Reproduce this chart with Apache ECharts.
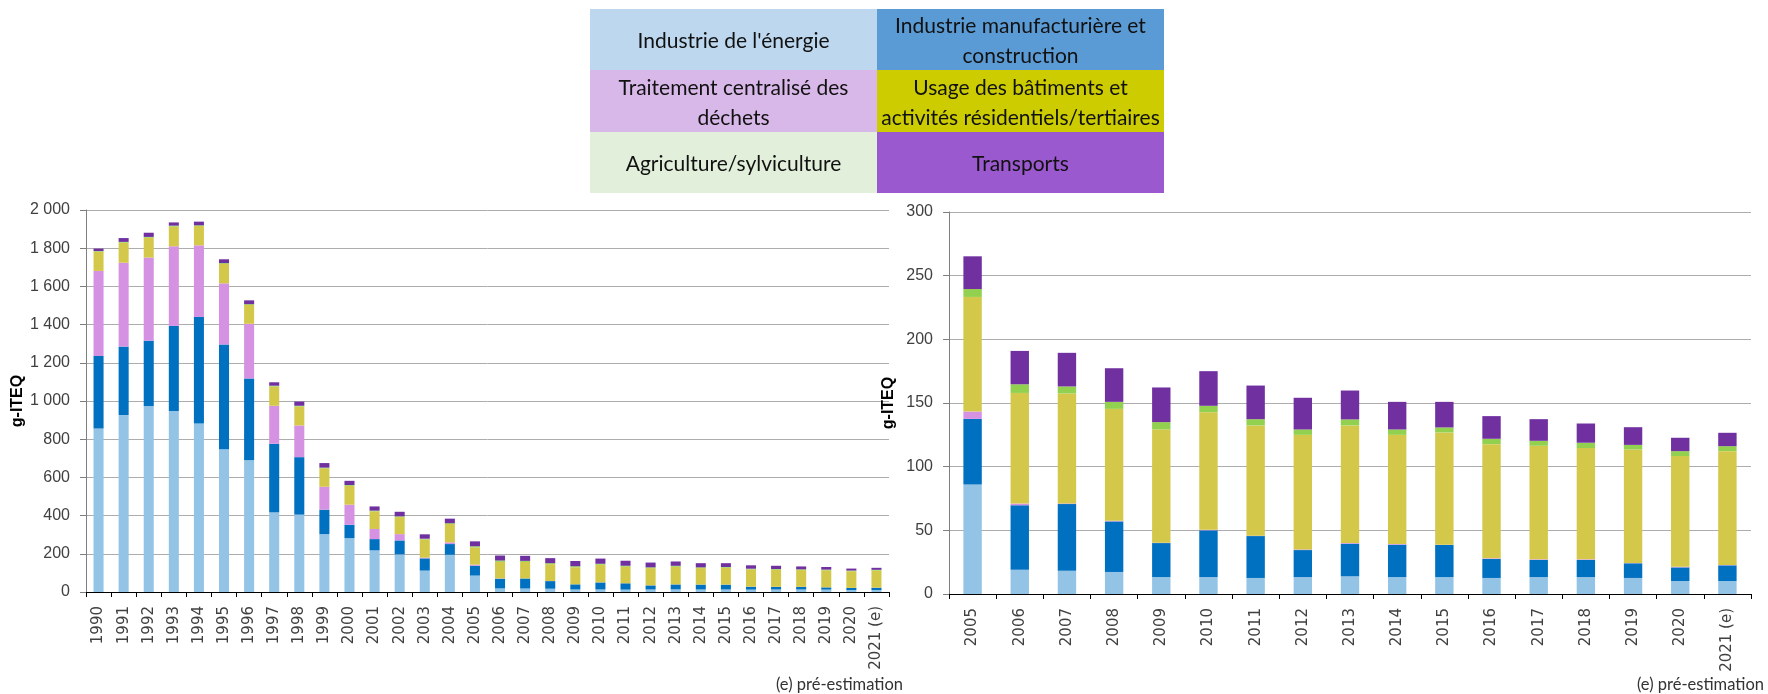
<!DOCTYPE html>
<html>
<head>
    <meta charset="utf-8">
    <script src="https://cdn.jsdelivr.net/npm/echarts@6/dist/echarts.min.js"></script>
    <style>body{margin:0;background:#fff;}</style>
</head>
<body>
    <div id="main" style="width: 1768px;height:694px;"></div>
    <script type="text/javascript">

// years, 1990 -> 2021 (e)
var years = ['1990','1991','1992','1993','1994','1995','1996','1997','1998','1999',
    '2000','2001','2002','2003','2004','2005','2006','2007','2008','2009',
    '2010','2011','2012','2013','2014','2015','2016','2017','2018','2019','2020','2021 (e)'];

// g-ITEQ per sector
var energie = [856, 926, 973, 948, 882, 748, 690, 417, 405, 303, 282, 218, 197, 112, 195,
    86, 19, 18.3, 17.3, 13.3, 13.3, 12.6, 13.3, 13.9, 13.3, 13.3, 12.6, 13.3, 13.3, 12.6, 10.2, 10.2];
var manuf = [380, 359, 343, 445, 558, 548, 428, 359, 301, 128, 70, 59, 73, 64, 56,
    51.5, 50.7, 52.3, 39.7, 26.7, 36.7, 32.9, 21.2, 25.6, 25.4, 25.2, 14.9, 13.4, 13.4, 11.5, 10.7, 12.3];
var dechets = [445, 439, 435, 417, 375, 320, 286, 199, 166, 120, 105, 53, 33, 4, 9,
    5.8, 1.3, 0.5, 0.5, 0.3, 0.5, 0.3, 0.5, 0.5, 0.5, 0.2, 0.5, 0.5, 0.5, 0.2, 0.5, 0.3];
var batiments = [101, 105, 104, 103, 101, 102, 99, 101, 99, 96, 99, 92, 89, 95, 96,
    90, 86.9, 86.4, 87.9, 88.9, 92.3, 86.6, 90, 92.4, 85.8, 88.2, 89.7, 89.2, 87.4, 89.2, 86.9, 89.4];
var agriculture = [3, 4, 4, 5, 4, 4, 4, 4, 4, 4, 4, 4, 4, 4, 4,
    6.2, 6.8, 5.5, 5.5, 5.8, 5, 4.9, 4.2, 4.7, 4.2, 3.9, 4.2, 3.9, 4.2, 3.6, 3.9, 3.9];
var transports = [13, 20, 22, 17, 19, 20, 20, 18, 22, 24, 22, 22, 24, 23, 24,
    25.7, 26.2, 26.4, 26.4, 27.2, 27.2, 26.4, 24.9, 22.7, 21.7, 20.1, 17.8, 17, 15.1, 13.9, 10.5, 10.5];

var sectors = [
    {name: "Industrie de l'énergie", data: energie, bar: '#93C4E6', key: '#BDD7EE'},
    {name: 'Industrie manufacturière et\nconstruction', data: manuf, bar: '#0070C0', key: '#5B9BD5'},
    {name: 'Traitement centralisé des\ndéchets', data: dechets, bar: '#D592E2', key: '#D8B8E8'},
    {name: 'Usage des bâtiments et\nactivités résidentiels/tertiaires', data: batiments, bar: '#D3C84A', key: '#CCCC00'},
    {name: 'Agriculture/sylviculture', data: agriculture, bar: '#92D050', key: '#E2EFDA'},
    {name: 'Transports', data: transports, bar: '#7030A0', key: '#9B59CF'}
];

var zoomFrom = years.indexOf('2005');

function spaceThousands(v) {
    return String(v).replace(/\B(?=(\d{3})+(?!\d))/g, ' ');
}

function xAxisCfg(idx, data) {
    return {
        type: 'category',
        gridIndex: idx,
        data: data,
        axisLine: {lineStyle: {color: '#000', width: 1}},
        axisTick: {show: true, length: 5, interval: 0, lineStyle: {color: '#000'}},
        axisLabel: {
            interval: 0, rotate: 90, margin: 14,
            fontFamily: 'DejaVu Sans', fontSize: 15, color: '#404040'
        }
    };
}

function yAxisCfg(idx, max, step, gap) {
    return {
        type: 'value',
        gridIndex: idx,
        min: 0, max: max, interval: step,
        name: 'g-ITEQ',
        nameLocation: 'middle',
        nameGap: gap,
        nameTextStyle: {fontFamily: 'Liberation Sans', fontWeight: 'bold', fontSize: 16, color: '#000'},
        axisLine: {show: true, lineStyle: {color: '#7F7F7F'}},
        axisTick: {show: true, length: 6, lineStyle: {color: '#7F7F7F'}},
        splitLine: {lineStyle: {color: '#ADADAD', width: 1}},
        axisLabel: {
            margin: 16, fontFamily: 'Liberation Sans', fontSize: 16, color: '#404040',
            formatter: spaceThousands
        }
    };
}

var series = [];
sectors.forEach(function (s) {
    series.push({
        name: s.name, type: 'bar', stack: 'all', xAxisIndex: 0, yAxisIndex: 0,
        barWidth: '40%', itemStyle: {color: s.bar}, data: s.data
    });
    series.push({
        name: s.name, type: 'bar', stack: 'recent', xAxisIndex: 1, yAxisIndex: 1,
        barWidth: '39%', itemStyle: {color: s.bar}, data: s.data.slice(zoomFrom)
    });
});

// legend drawn as a 2x3 table of coloured cells
var legendCells = [];
var cellX = [590, 877], cellY = [9, 70, 132], cellW = 287, cellH = [61, 62, 61];
sectors.forEach(function (s, i) {
    var col = i % 2, row = Math.floor(i / 2);
    legendCells.push({
        type: 'rect',
        shape: {x: cellX[col], y: cellY[row], width: cellW, height: cellH[row]},
        style: {fill: s.key}
    });
    legendCells.push({
        type: 'text',
        x: cellX[col] + cellW / 2, y: cellY[row] + cellH[row] / 2 + 2,
        style: {
            text: s.name, align: 'center', verticalAlign: 'middle',
            font: '21px Lato', lineHeight: 30, fill: '#111'
        }
    });
});
legendCells.push({
    type: 'text', x: 903, y: 685,
    style: {text: '(e) pré-estimation', align: 'right', verticalAlign: 'middle', font: '16.5px Lato', fill: '#333'}
});
legendCells.push({
    type: 'text', x: 1764, y: 685,
    style: {text: '(e) pré-estimation', align: 'right', verticalAlign: 'middle', font: '16.5px Lato', fill: '#333'}
});

option = {
    animation: false,
    backgroundColor: '#fff',
    grid: [
        {left: 86, top: 210, width: 803, height: 382},
        {left: 949, top: 212, width: 802, height: 382}
    ],
    xAxis: [xAxisCfg(0, years), xAxisCfg(1, years.slice(zoomFrom))],
    yAxis: [yAxisCfg(0, 2000, 200, 58), yAxisCfg(1, 300, 50, 52)],
    series: series,
    graphic: legendCells
};

var myChart = echarts.init(document.getElementById('main'));
myChart.setOption(option);

    </script>
</body>
</html>
